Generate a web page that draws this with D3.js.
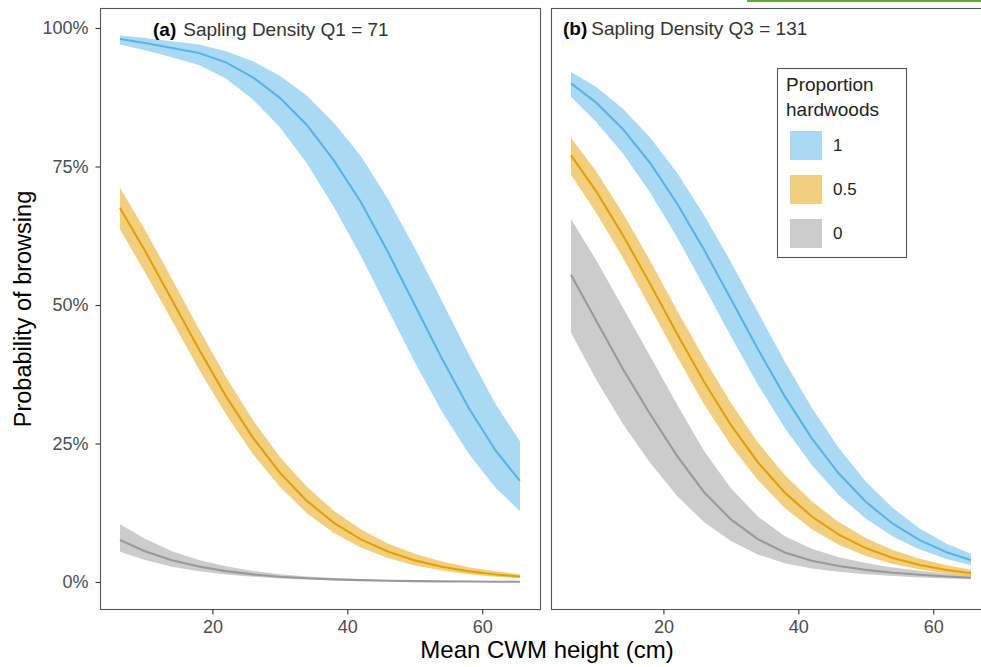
<!DOCTYPE html>
<html>
<head>
<meta charset="utf-8">
<script src="https://cdn.jsdelivr.net/npm/d3@7"></script>
<style>
  body { margin: 0; background: #fff; }
  svg { display: block; font-family: "Liberation Sans", Arial, sans-serif; }
</style>
</head>
<body>
<div id="chart"></div>
<script>

// ---- data ----
var heights = [6.3, 10, 14, 18, 22, 26, 30, 34, 38, 42, 46, 50, 54, 58, 62, 65.6];
var yTicks = [0, 0.25, 0.5, 0.75, 1];
var xTicks = [20, 40, 60];
var groups = ['1', '0.5', '0'];
var panelTags = ['(a)', '(b)'];
var panelTitles = ['Sapling Density Q1 = 71', 'Sapling Density Q3 = 131'];

// panel (a), Q1 = 71
var aHw1Fit = [.980, .973, .964, .955, .938, .911, .874, .825, .761, .686, .596, .500, .404, .314, .237, .1825];
var aHw1Lo  = [.970, .960, .947, .933, .909, .871, .821, .756, .677, .589, .4925, .3965, .308, .2315, .1695, .128];
var aHw1Hi  = [.9865, .982, .976, .970, .958, .940, .914, .878, .829, .769, .692, .603, .5075, .411, .321, .2535];

var aHw05Fit = [.675, .598, .509, .420, .3356, .2606, .1973, .1464, .1068, .077, .055, .039, .0276, .0194, .0136, .0099];
var aHw05Lo  = [.6365, .559, .472, .384, .303, .231, .1718, .1242, .0884, .0622, .0434, .0298, .0206, .014, .0096, .0068];
var aHw05Hi  = [.711, .636, .547, .457, .370, .2926, .2256, .1718, .1287, .095, .0696, .051, .0369, .0268, .0192, .0142];

var aHw0Fit = [.0759, .0556, .0394, .0279, .0196, .0138, .0096, .0067, .0047, .0033, .0023, .0016, .0011, .0008, .00055, .0004];
var aHw0Lo  = [.0547, .0395, .0276, .0195, .0134, .0094, .0065, .0045, .0031, .0022, .0015, .0010, .0007, .0005, .0003, .00025];
var aHw0Hi  = [.1044, .078, .0557, .0399, .0285, .020, .0142, .010, .007, .005, .0035, .0024, .0017, .0012, .0009, .0006];

// panel (b), Q3 = 131
var bHw1Fit = [.900, .8657, .8175, .7568, .6837, .6004, .5107, .4204, .3351, .2594, .1958, .1447, .1052, .0755, .0537, .0394];
var bHw1Lo  = [.8754, .831, .7736, .7037, .6227, .534, .4435, .3564, .2779, .211, .1567, .1144, .0823, .0587, .0415, .0303];
var bHw1Hi  = [.9206, .894, .8543, .803, .739, .663, .5777, .4873, .3977, .3146, .2418, .1815, .1335, .0966, .0692, .0509];

var bHw05Fit = [.770, .706, .626, .5387, .4486, .3619, .2835, .2162, .1613, .1182, .0855, .0612, .0435, .0308, .0217, .0157];
var bHw05Lo  = [.735, .667, .5854, .4963, .407, .3215, .2466, .1842, .1337, .0953, .0672, .047, .0326, .0225, .0155, .0111];
var bHw05Hi  = [.802, .742, .665, .5805, .491, .4045, .3236, .252, .1932, .1456, .1081, .0794, .0579, .0419, .0302, .0222];

var bHw0Fit = [.5548, .4725, .3846, .3037, .228, .1625, .113, .0773, .0532, .0384, .0288, .0219, .0168, .013, .00995, .0078];
var bHw0Lo  = [.4502, .3659, .285, .2158, .1558, .1081, .0738, .0498, .0339, .0244, .0183, .0139, .0108, .0083, .0064, .005];
var bHw0Hi  = [.6548, .5818, .495, .4085, .3208, .2369, .1694, .1182, .0824, .0601, .0448, .0342, .0261, .0202, .0155, .0121];

var colours = {'1': '#56B4E9', '0.5': '#E69F00', '0': '#999999'};

/*---------- BUILD ----------*/

function series(fit, lo, hi){
  return heights.map(function(h, i){ return {x: h, fit: fit[i], lo: lo[i], hi: hi[i]}; });
}

var panels = [
  {tag: panelTags[0], title: panelTitles[0], left: 100, tagX: 53, gap: 7, baseline: 36, groups: {
    '1': series(aHw1Fit, aHw1Lo, aHw1Hi),
    '0.5': series(aHw05Fit, aHw05Lo, aHw05Hi),
    '0': series(aHw0Fit, aHw0Lo, aHw0Hi)}},
  {tag: panelTags[1], title: panelTitles[1], left: 551, tagX: 12, gap: 4, baseline: 35, groups: {
    '1': series(bHw1Fit, bHw1Lo, bHw1Hi),
    '0.5': series(bHw05Fit, bHw05Lo, bHw05Hi),
    '0': series(bHw0Fit, bHw0Lo, bHw0Hi)}}
];

var W = 981, H = 667,
  panelW = 440, panelTop = 8, panelBottom = 609,
  font = '"Liberation Sans", Arial, sans-serif';

var svg = d3.select('#chart').append('svg')
  .attr('width', W)
  .attr('height', H);

// thin green strip along the top right edge of the source image
svg.append('rect')
  .attr('x', 747).attr('y', 0)
  .attr('width', W - 747).attr('height', 2)
  .style('fill', '#6aa842');

// ggplot-style 5% expansion of x range
var xExt = d3.extent(heights),
  xPad = (xExt[1] - xExt[0]) * 0.05;

var y = d3.scaleLinear()
  .domain([0, 1])
  .range([582, 28]);

panels.forEach(function(p, pi){
  var x = d3.scaleLinear()
    .domain([xExt[0] - xPad, xExt[1] + xPad])
    .range([p.left, p.left + panelW]);

  var g = svg.append('g');

  var area = d3.area()
    .x(function(d){ return x(d.x); })
    .y0(function(d){ return y(d.lo); })
    .y1(function(d){ return y(d.hi); });

  var line = d3.line()
    .x(function(d){ return x(d.x); })
    .y(function(d){ return y(d.fit); });

  var order = ['0', '0.5', '1'];

  order.forEach(function(k){
    g.append('path')
      .datum(p.groups[k])
      .attr('d', area)
      .style('fill', colours[k])
      .style('fill-opacity', 0.5);
  });

  order.forEach(function(k){
    g.append('path')
      .datum(p.groups[k])
      .attr('d', line)
      .style('fill', 'none')
      .style('stroke', colours[k])
      .style('stroke-width', 2.1);
  });

  // panel border
  g.append('rect')
    .attr('x', p.left + 0.5).attr('y', panelTop + 0.5)
    .attr('width', panelW).attr('height', panelBottom - panelTop)
    .style('fill', 'none')
    .style('stroke', '#555')
    .style('stroke-width', 1.1);

  // x axis
  var xAxis = g.append('g')
    .attr('transform', 'translate(0,' + (panelBottom + 0.5) + ')')
    .call(d3.axisBottom(x).tickValues(xTicks).tickSize(5).tickPadding(6));
  xAxis.select('.domain').remove();
  xAxis.selectAll('line').style('stroke', '#333').style('stroke-width', 1.1);
  xAxis.selectAll('text').style('font-size', '18px').style('fill', '#4d4d4d')
    .style('font-family', font);

  // y axis only on the first panel
  if(pi === 0){
    var yAxis = g.append('g')
      .attr('transform', 'translate(' + (p.left + 0.5) + ',0)')
      .call(d3.axisLeft(y).tickValues(yTicks).tickSize(5).tickPadding(7)
        .tickFormat(d3.format('.0%')));
    yAxis.select('.domain').remove();
    yAxis.selectAll('line').style('stroke', '#333').style('stroke-width', 1.1);
    yAxis.selectAll('text').style('font-size', '18px').style('fill', '#4d4d4d')
      .style('font-family', font);
  }

  // panel title
  var t = g.append('text')
    .attr('x', p.left + p.tagX)
    .attr('y', p.baseline)
    .style('font-size', '19px')
    .style('fill', '#333');
  t.append('tspan').style('font-weight', 'bold').style('fill', '#000').text(p.tag);
  t.append('tspan').attr('dx', p.gap).text(p.title);
});

// axis titles
svg.append('text')
  .attr('x', 547).attr('y', 658)
  .attr('text-anchor', 'middle')
  .style('font-size', '24px')
  .text('Mean CWM height (cm)');

svg.append('text')
  .attr('transform', 'translate(31,309) rotate(-90)')
  .attr('text-anchor', 'middle')
  .style('font-size', '23.5px')
  .text('Probability of browsing');

// legend
var legend = svg.append('g').attr('transform', 'translate(777,68)');
legend.append('rect')
  .attr('x', 0.5).attr('y', 0.5)
  .attr('width', 129).attr('height', 189)
  .style('fill', '#fff')
  .style('stroke', '#555')
  .style('stroke-width', 1.1);
legend.append('text').attr('x', 9).attr('y', 23)
  .style('font-size', '19px').style('fill', '#222').text('Proportion');
legend.append('text').attr('x', 9).attr('y', 48)
  .style('font-size', '19px').style('fill', '#222').text('hardwoods');

groups.forEach(function(k, i){
  var ky = 63 + i * 44;
  legend.append('rect')
    .attr('x', 13).attr('y', ky)
    .attr('width', 32).attr('height', 29)
    .style('fill', colours[k])
    .style('fill-opacity', 0.5);
  legend.append('text')
    .attr('x', 56).attr('y', ky + 14.5)
    .attr('dy', '0.35em')
    .style('font-size', '17px')
    .style('fill', '#222')
    .text(k);
});

</script>
</body>
</html>
